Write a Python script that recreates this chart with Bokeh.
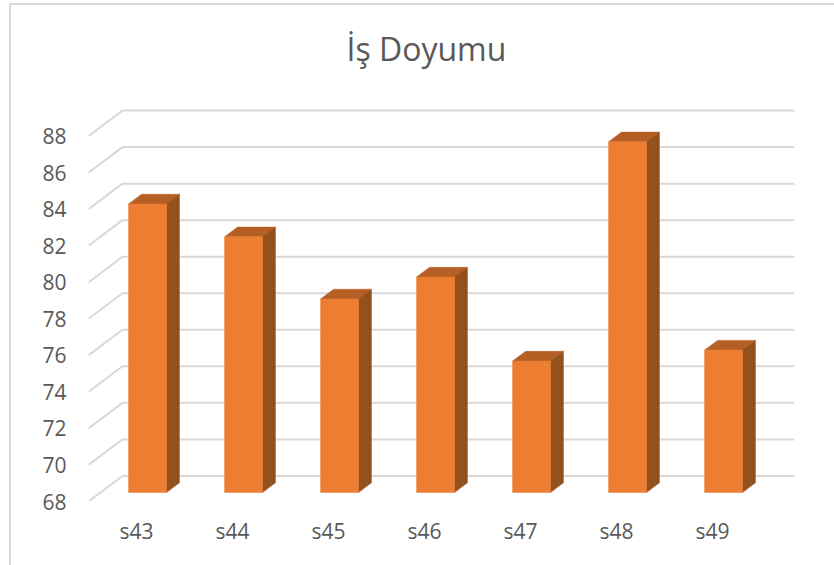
from bokeh.plotting import figure
from bokeh.models import Range1d, FixedTicker, Label
from bokeh.embed import file_html
from bokeh.resources import INLINE

title_text = "İş Doyumu"
categories = ["s43", "s44", "s45", "s46", "s47", "s48", "s49"]
values = [83.8, 82.0, 78.6, 79.8, 75.2, 87.2, 75.8]
y_ticks = [68, 70, 72, 74, 76, 78, 80, 82, 84, 86, 88]

FONT = "Open Sans"
TXT = "#595959"
GRID = "#d9d9d9"
FRONT, TOP, SIDE = "#ED7D31", "#B65F25", "#95511C"

# 3D projection, in data units
GX, GY = 34 / 96, 1.4        # wall depth
BX, BY = 13 / 96, 0.53       # bar depth
SHIFT, HALF = 0.1146, 0.197  # bar centre offset and half-width
BASE_LIFT = 0.49             # floor position of the bars' front face

# Chart-area border: only the top and left edges are in view
edge = f"linear-gradient({GRID},{GRID})"
border_css = f"{edge} 9px 3px/825px 2px no-repeat, {edge} 9px 3px/2px 562px no-repeat"

p = figure(width=834, height=565, output_backend="svg", toolbar_location=None,
           x_range=Range1d(-0.5, 6.854), y_range=Range1d(68, 94.33),
           min_border_left=88, min_border_right=40, min_border_top=20, min_border_bottom=64,
           margin=(0, 0, 0, 0), background_fill_color=None, border_fill_color=None,
           styles={"background": border_css})
p.outline_line_color = None
p.grid.visible = False

p.add_layout(Label(x=3.02, y=92.8, text=title_text, text_align="center", text_baseline="middle",
                   text_font=FONT, text_font_size="32px", text_color=TXT))

for ax in (p.xaxis[0], p.yaxis[0]):
    ax.axis_line_color = None
    ax.major_tick_line_color = None
    ax.minor_tick_line_color = None
    ax.major_label_text_font = FONT
    ax.major_label_text_font_size = "21px"
    ax.major_label_text_color = TXT

p.yaxis[0].ticker = FixedTicker(ticks=y_ticks)
p.yaxis[0].major_label_standoff = 16
p.xaxis[0].ticker = FixedTicker(ticks=list(range(len(categories))))
p.xaxis[0].major_label_overrides = {i: c for i, c in enumerate(categories)}
p.xaxis[0].major_label_standoff = 9

# Walls: each gridline runs up the side wall, then along the back wall
x0, x1 = p.x_range.start, p.x_range.end
p.multi_line(xs=[[x0, x0 + GX, x1] for _ in y_ticks],
             ys=[[v, v + GY, v + GY] for v in y_ticks],
             line_color=GRID, line_width=2)

# Bars
base = y_ticks[0] + BASE_LIFT
lefts = [i + SHIFT - HALF for i in range(len(values))]
rights = [i + SHIFT + HALF for i in range(len(values))]
tops = [base + v - y_ticks[0] for v in values]

p.patches(xs=[[l, l + BX, r + BX, r] for l, r in zip(lefts, rights)],
          ys=[[t, t + BY, t + BY, t] for t in tops],
          fill_color=TOP, line_color=TOP, line_width=0.5)
p.patches(xs=[[r, r + BX, r + BX, r] for r in rights],
          ys=[[base, base + BY, t + BY, t] for t in tops],
          fill_color=SIDE, line_color=SIDE, line_width=0.5)
p.quad(left=lefts, right=rights, bottom=base, top=tops,
       fill_color=FRONT, line_color=FRONT, line_width=0.5)

open("out.html", "w").write(file_html(p, INLINE))
